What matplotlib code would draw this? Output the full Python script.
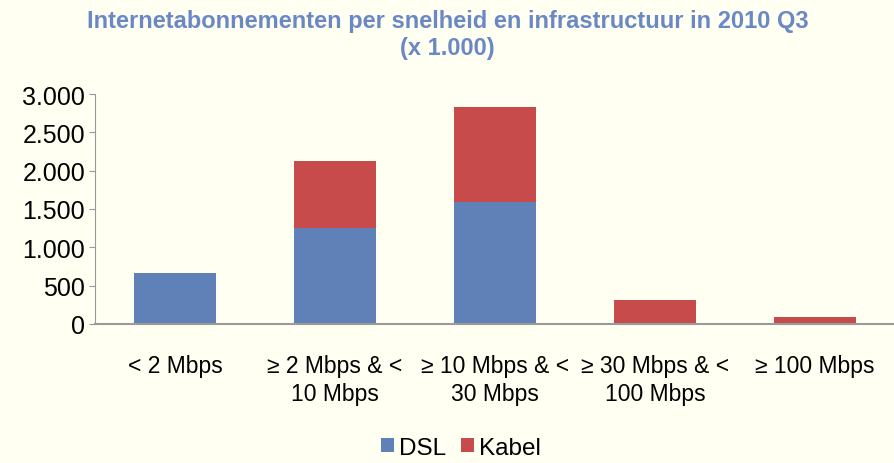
import matplotlib.pyplot as plt
import numpy as np

plt.rcParams['font.family'] = ['Liberation Sans', 'DejaVu Sans']

categories = ['< 2 Mbps', '≥ 2 Mbps & <\n10 Mbps', '≥ 10 Mbps & <\n30 Mbps',
              '≥ 30 Mbps & <\n100 Mbps', '≥ 100 Mbps']
dsl = [662, 1250, 1585, 0, 0]
kabel = [6, 880, 1245, 313, 85]
yticks = [0, 500, 1000, 1500, 2000, 2500, 3000]
ytick_labels = ['0', '500', '1.000', '1.500', '2.000', '2.500', '3.000']

bg = '#FFFFF2'
blue = '#6080B8'
red = '#C84B4B'

fig = plt.figure(figsize=(8.95, 4.64), dpi=100, facecolor=bg)
ax = fig.add_axes([0.106, 0.300, 0.894, 0.495], facecolor=bg)

x = np.arange(len(categories))
ax.bar(x, dsl, width=0.515, color=blue, label='DSL')
ax.bar(x, kabel, width=0.515, bottom=dsl, color=red, label='Kabel')

ax.set_xlim(-0.5, len(categories) - 0.5)
ax.set_ylim(0, 3000)
ax.set_yticks(yticks)
ax.set_yticklabels(ytick_labels, fontsize=18)
ax.set_xticks(x)
ax.set_xticklabels(categories, fontsize=16.5, linespacing=1.25)
ax.tick_params(axis='x', length=0, pad=22)
ax.tick_params(axis='y', length=4, color='#999999', pad=3)

for s in ['top', 'right']:
    ax.spines[s].set_visible(False)
ax.spines['left'].set_color('#999999')
ax.spines['bottom'].set_color('#999999')
ax.spines['bottom'].set_linewidth(1.5)

fig.text(0.5, 0.925, 'Internetabonnementen per snelheid en infrastructuur in 2010 Q3\n(x 1.000)',
         ha='center', va='center', fontsize=17, fontweight='bold', color='#6A88C4',
         linespacing=1.25)

fig.legend(loc='center', bbox_to_anchor=(0.515, 0.033), ncol=2, frameon=False,
           fontsize=17.5, handlelength=0.55, handleheight=0.55, handletextpad=0.2,
           columnspacing=0.6, borderpad=0.2)

fig.savefig('out.png', dpi=100, facecolor=bg)
